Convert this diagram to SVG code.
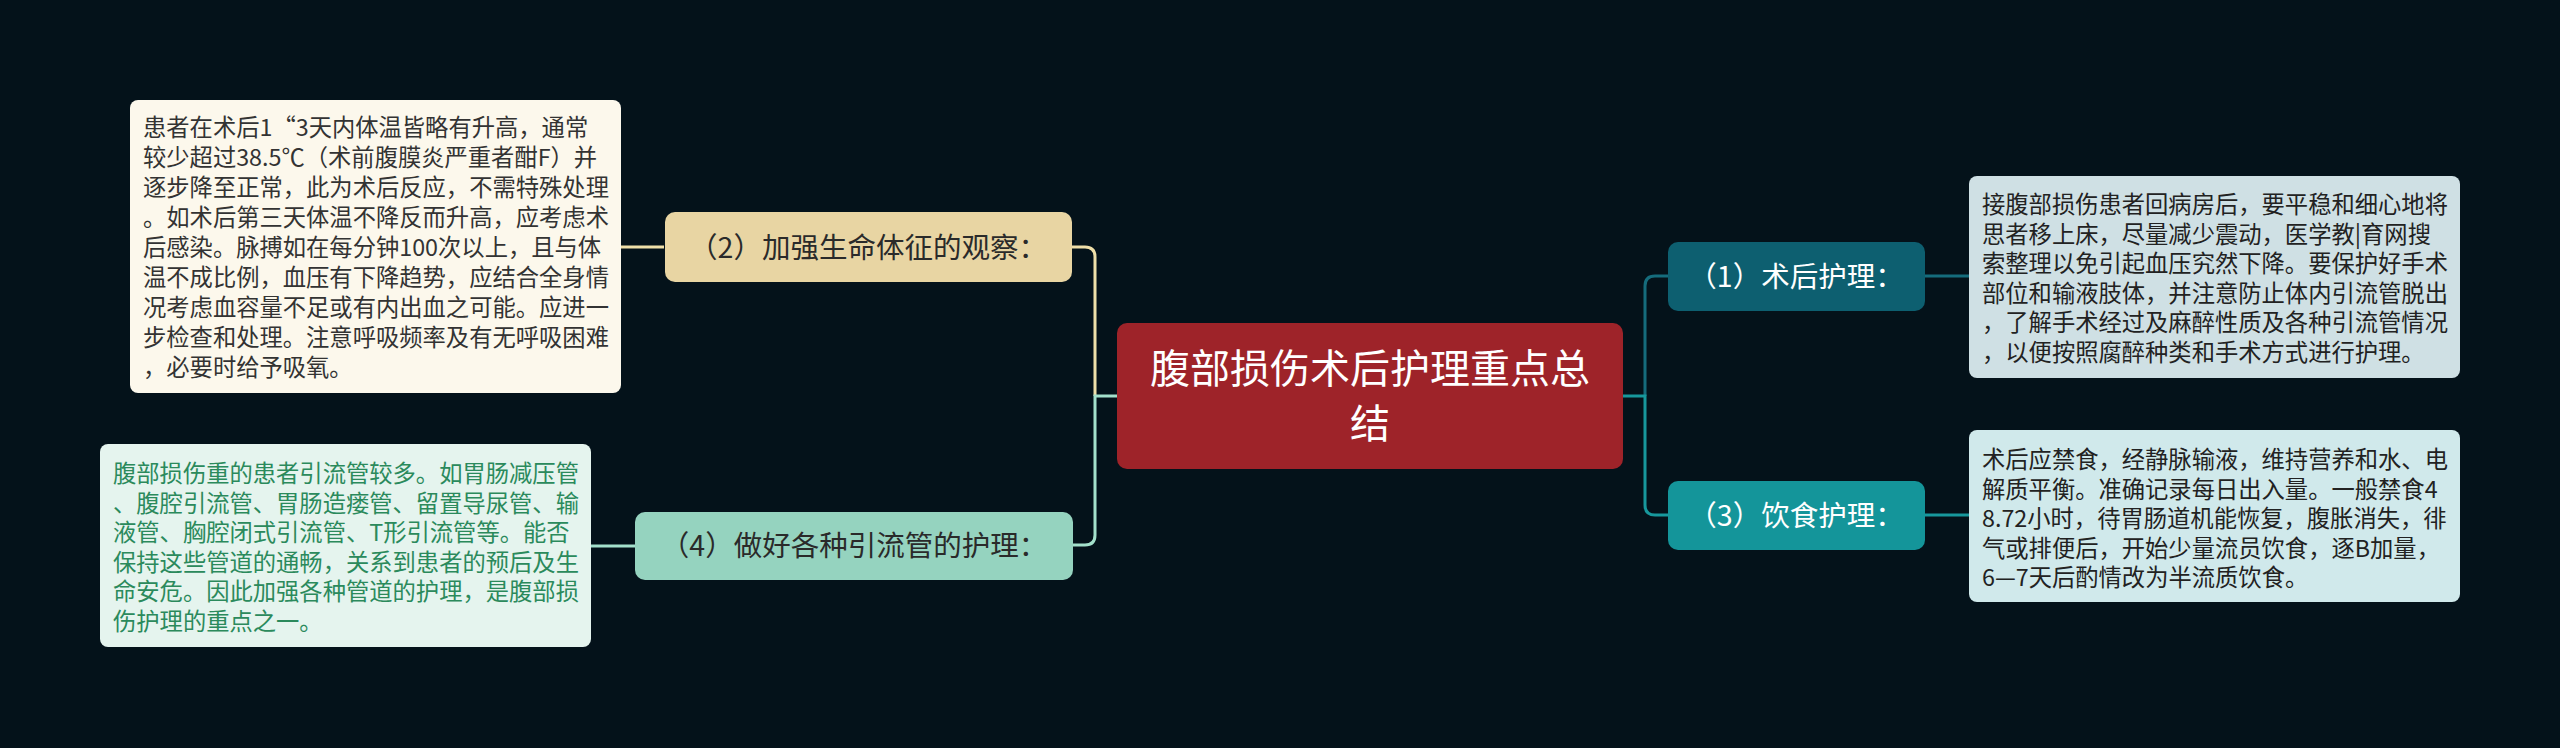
<svg xmlns="http://www.w3.org/2000/svg" width="2560" height="748" viewBox="0 0 2560 748">
<style>
text{font-family:"Noto Sans CJK SC","Noto Sans",sans-serif;}
.d{font-size:23.3px;}
.b{font-size:28.5px;text-anchor:middle;}
.c{fill:none;stroke-width:3;}
</style>
<rect width="2560" height="748" fill="#04121a"/>
<g id="connectors">
<path class="c" stroke="#efdfa9" d="M1095,396 V257 Q1095,247 1085,247 H1072"/>
<path class="c" stroke="#a3e0cb" d="M1117,396 H1095 V535 Q1095,545 1085,545 H1073"/>
<path class="c" stroke="#efdfa9" d="M664,247 H621"/>
<path class="c" stroke="#a3e0cb" d="M635,546 H591"/>
<path class="c" stroke="#156c7c" d="M1645,396 V286 Q1645,276 1655,276 H1668"/>
<path class="c" stroke="#17989c" d="M1623,396 H1645 V505 Q1645,515 1655,515 H1668"/>
<path class="c" stroke="#156c7c" d="M1925,276 H1969"/>
<path class="c" stroke="#17989c" d="M1925,515 H1969"/>
</g>
<g id="root">
<rect x="1117" y="323" width="506" height="146" rx="10" fill="#9e2329"/>
<text x="1370" y="383" font-size="40" fill="#ffffff" text-anchor="middle">腹部损伤术后护理重点总</text>
<text x="1370" y="438" font-size="40" fill="#ffffff" text-anchor="middle">结</text>
</g>
<g id="n2">
<rect x="665" y="212" width="407" height="70" rx="10" fill="#e8d5a3"/>
<text class="b" x="868" y="258" fill="#2a2a2a">（2）加强生命体征的观察：</text>
</g>
<g id="n4">
<rect x="635" y="512" width="438" height="68" rx="10" fill="#95d3bf"/>
<text class="b" x="854" y="556" fill="#2a2a2a">（4）做好各种引流管的护理：</text>
</g>
<g id="n1">
<rect x="1668" y="242" width="257" height="69" rx="10" fill="#0d5f70"/>
<text class="b" x="1796" y="287" fill="#ffffff">（1）术后护理：</text>
</g>
<g id="n3">
<rect x="1668" y="481" width="257" height="69" rx="10" fill="#14959a"/>
<text class="b" x="1796" y="526" fill="#ffffff">（3）饮食护理：</text>
</g>
<g id="d2">
<rect x="130" y="100" width="491" height="293" rx="8" fill="#fcf8ec"/>
<g class="d" fill="#333333">
<text x="143" y="136">患者在术后1“3天内体温皆略有升高，通常</text>
<text x="143" y="166">较少超过38.5℃（术前腹膜炎严重者酣F）并</text>
<text x="143" y="196">逐步降至正常，此为术后反应，不需特殊处理</text>
<text x="143" y="226">。如术后第三天体温不降反而升高，应考虑术</text>
<text x="143" y="256">后感染。脉搏如在每分钟100次以上，且与体</text>
<text x="143" y="286">温不成比例，血压有下降趋势，应结合全身情</text>
<text x="143" y="316">况考虑血容量不足或有内出血之可能。应进一</text>
<text x="143" y="346">步检查和处理。注意呼吸频率及有无呼吸困难</text>
<text x="143" y="376">，必要时给予吸氧。</text>
</g>
</g>
<g id="d4">
<rect x="100" y="444" width="491" height="203" rx="8" fill="#e5f4ee"/>
<g class="d" fill="#2b8a5c">
<text x="113" y="482">腹部损伤重的患者引流管较多。如胃肠减压管</text>
<text x="113" y="511.5">、腹腔引流管、胃肠造瘘管、留置导尿管、输</text>
<text x="113" y="541">液管、胸腔闭式引流管、T形引流管等。能否</text>
<text x="113" y="570.5">保持这些管道的通畅，关系到患者的预后及生</text>
<text x="113" y="600">命安危。因此加强各种管道的护理，是腹部损</text>
<text x="113" y="629.5">伤护理的重点之一。</text>
</g>
</g>
<g id="d1">
<rect x="1969" y="176" width="491" height="202" rx="8" fill="#cfe0e4"/>
<g class="d" fill="#222222">
<text x="1982" y="213">接腹部损伤患者回病房后，要平稳和细心地将</text>
<text x="1982" y="242.5">思者移上床，尽量减少震动，医学教|育网搜</text>
<text x="1982" y="272">索整理以免引起血压究然下降。要保护好手术</text>
<text x="1982" y="301.5">部位和输液肢体，并注意防止体内引流管脱出</text>
<text x="1982" y="331">，了解手术经过及麻醉性质及各种引流管情况</text>
<text x="1982" y="360.5">，以便按照腐醉种类和手术方式进行护理。</text>
</g>
</g>
<g id="d3">
<rect x="1969" y="430" width="491" height="172" rx="8" fill="#d0e9eb"/>
<g class="d" fill="#222222">
<text x="1982" y="468">术后应禁食，经静脉输液，维持营养和水、电</text>
<text x="1982" y="497.5">解质平衡。准确记录每日出入量。一般禁食4</text>
<text x="1982" y="527">8.72小时，待胃肠道机能恢复，腹胀消失，徘</text>
<text x="1982" y="556.5">气或排便后，开始少量流员饮食，逐B加量，</text>
<text x="1982" y="586">6—7天后酌情改为半流质饮食。</text>
</g>
</g>
</svg>
